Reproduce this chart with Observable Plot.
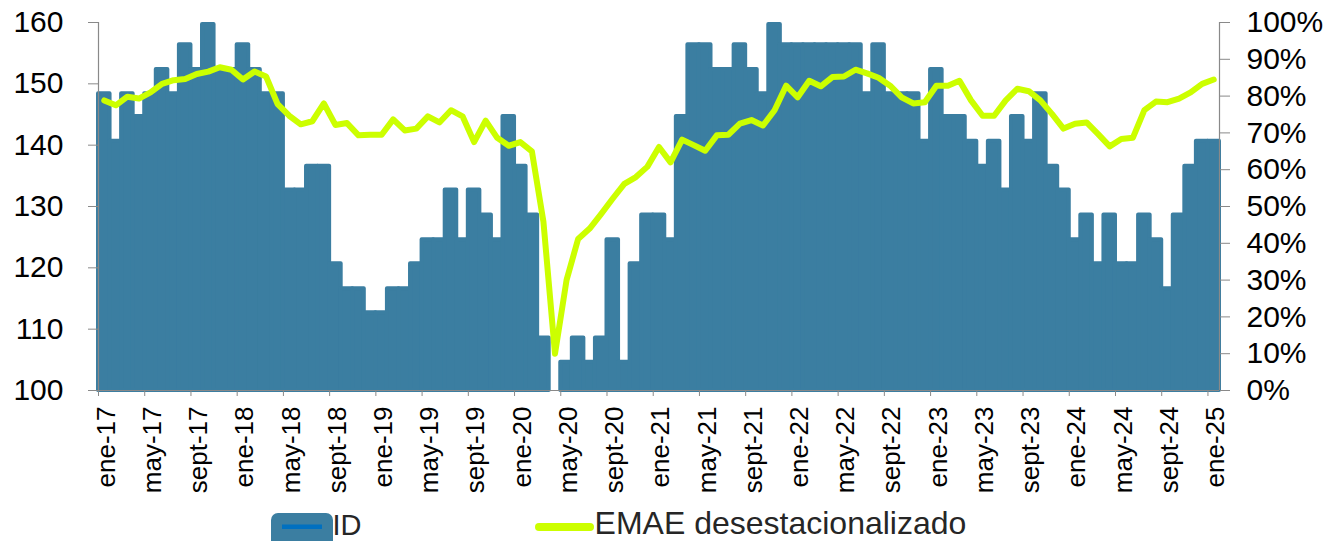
<!DOCTYPE html>
<html>
<head>
<meta charset="utf-8">
<script src="https://cdn.jsdelivr.net/npm/d3@7"></script>
<script src="https://cdn.jsdelivr.net/npm/@observablehq/plot@0.6"></script>
<style>
  body { margin: 0; background: #fff; font-family: "Liberation Sans", Arial, sans-serif; }
  #wrap { position: relative; width: 1342px; height: 541px; overflow: hidden; background: #fff; }
  #chart svg { display: block; }
  #legend { position: absolute; left: 0; top: 505px; }
</style>
</head>
<body>
<div id="wrap">
  <div id="chart"></div>
  <svg id="legend" width="1342" height="36"></svg>
</div>
<script>
// Category tick labels (every 4 months, Jan 2017 .. Jan 2025)
const tickLabels = [
  "ene-17","may-17","sept-17","ene-18","may-18","sept-18","ene-19","may-19","sept-19",
  "ene-20","may-20","sept-20","ene-21","may-21","sept-21","ene-22","may-22","sept-22",
  "ene-23","may-23","sept-23","ene-24","may-24","sept-24","ene-25"
];

// ID (índice de difusión), % — right axis. 97 months, Jan 2017 .. Jan 2025
const idValues = [
  81.2, 68.3, 81.2, 75.0, 81.2, 87.8, 81.2, 94.5, 87.8, 100, 87.8, 87.8,
  94.5, 87.8, 81.2, 81.2, 55.0, 55.0, 61.5, 61.5, 35.0, 28.2, 28.2, 21.7,
  21.7, 28.2, 28.2, 35.0, 41.5, 41.5, 55.0, 41.5, 55.0, 48.2, 41.5, 75.0,
  61.5, 48.2, 14.8, 0, 8.2, 14.8, 8.2, 14.8, 41.5, 8.2, 35.0, 48.2,
  48.2, 41.5, 75.0, 94.5, 94.5, 87.8, 87.8, 94.5, 87.8, 81.2, 100, 94.5,
  94.5, 94.5, 94.5, 94.5, 94.5, 94.5, 81.2, 94.5, 81.2, 81.2, 81.2, 68.3,
  87.8, 75.0, 75.0, 68.3, 61.5, 68.3, 55.0, 75.0, 68.3, 81.2, 61.5, 55.0,
  41.5, 48.2, 35.0, 48.2, 35.0, 35.0, 48.2, 41.5, 28.2, 48.2, 61.5, 68.3,
  68.3
];

// EMAE desestacionalizado — left axis
const emaeValues = [
  147.3, 146.5, 147.9, 147.6, 148.6, 150.0, 150.6, 150.8, 151.6, 152.0, 152.7, 152.3,
  150.7, 152.0, 151.2, 146.7, 144.8, 143.4, 143.9, 146.8, 143.3, 143.6, 141.6, 141.7,
  141.7, 144.2, 142.4, 142.7, 144.7, 143.7, 145.7, 144.7, 140.5, 144.0, 141.2, 139.9,
  140.5, 139.0, 127.5, 106.0, 118.0, 124.7, 126.4, 128.8, 131.3, 133.7, 134.8, 136.5,
  139.7, 137.2, 140.9, 140.0, 139.1, 141.6, 141.7, 143.5, 144.1, 143.2, 145.7, 149.7,
  147.8, 150.5, 149.6, 151.1, 151.2, 152.3, 151.7, 151.0, 149.7, 147.8, 146.8, 147.0,
  149.7, 149.7, 150.5, 147.3, 144.8, 144.8, 147.3, 149.2, 148.8, 147.3, 145.1, 142.7,
  143.5, 143.7, 141.8, 139.8, 141.0, 141.2, 145.7, 147.1, 147.0, 147.6, 148.6, 150.0,
  150.7
];

const leftTicks = [100, 110, 120, 130, 140, 150, 160];
const pctTicks = [0, 10, 20, 30, 40, 50, 60, 70, 80, 90, 100];

const barColor = "#3b7ea1";
const lineColor = "#ccff00";
const axisGray = "#898989";

// map right-axis % onto left-axis units (0% -> 100, 100% -> 160)
const pctToLeft = p => 100 + p * 0.6;

const rows = idValues.map((v, i) => ({ i, id: v, emae: emaeValues[i] }));
const n = rows.length;
const labelPos = tickLabels.map((_, j) => j * 4);
const boundaryPos = tickLabels.map((_, j) => j * 4 - 0.5);

const chart = Plot.plot({
  width: 1342,
  height: 505,
  marginLeft: 98,
  marginRight: 123,
  marginTop: 22,
  marginBottom: 115,
  style: { fontFamily: "'Liberation Sans', Arial, sans-serif", color: "#000", background: "#fff", overflow: "visible" },
  x: { domain: [-0.5, n - 0.5], axis: null },
  y: { domain: [100, 160], axis: null },
  marks: [
    Plot.rectY(rows.filter(d => d.id > 0), {
      x1: d => d.i - 0.5, x2: d => d.i + 0.5,
      y1: 100, y2: d => pctToLeft(d.id),
      fill: barColor, stroke: barColor, strokeWidth: 4, strokeLinejoin: "round",
      insetTop: 2
    }),
    Plot.ruleY([100], { stroke: axisGray, strokeWidth: 1.2 }),
    Plot.ruleX([-0.5, n - 0.5], { stroke: axisGray, strokeWidth: 1.2 }),
    Plot.axisY({
      anchor: "left", ticks: leftTicks, tickSize: 10, tickPadding: 25,
      fontSize: 30, stroke: axisGray, label: null
    }),
    Plot.axisY({
      anchor: "right", ticks: pctTicks.map(pctToLeft), tickSize: 10, tickPadding: 17,
      tickFormat: v => Math.round((v - 100) / 0.6) + "%",
      fontSize: 30, stroke: axisGray, label: null
    }),
    Plot.axisX({
      ticks: boundaryPos, tickSize: 6, tickFormat: () => "", stroke: axisGray, label: null
    }),
    Plot.axisX({
      ticks: labelPos, tickSize: 0, tickPadding: 16, tickRotate: -90,
      tickFormat: k => tickLabels[Math.round(k / 4)],
      textAnchor: "end", lineAnchor: "middle", dx: 2,
      fontSize: 26, label: null
    }),
    Plot.line(rows, {
      x: "i", y: "emae", stroke: lineColor, strokeWidth: 6,
      strokeLinejoin: "round", strokeLinecap: "round"
    })
  ]
});
document.getElementById("chart").appendChild(chart);

// legend (below the SVG)
const lg = d3.select("#legend");
lg.append("rect").attr("x", 271).attr("y", 8).attr("width", 62).attr("height", 34)
  .attr("rx", 7).attr("fill", barColor);
lg.append("rect").attr("x", 282).attr("y", 19.5).attr("width", 40).attr("height", 4.5)
  .attr("fill", "#0070c0");
lg.append("text").attr("x", 332.5).attr("y", 30).attr("font-size", 29)
  .attr("font-family", "'Liberation Sans', Arial, sans-serif").attr("fill", "#262626").text("ID");
lg.append("line").attr("x1", 539).attr("x2", 590).attr("y1", 22).attr("y2", 22)
  .attr("stroke", lineColor).attr("stroke-width", 8).attr("stroke-linecap", "round");
lg.append("text").attr("x", 594.6).attr("y", 29).attr("font-size", 32)
  .attr("font-family", "'Liberation Sans', Arial, sans-serif").attr("fill", "#262626").text("EMAE desestacionalizado");
</script>
</body>
</html>
